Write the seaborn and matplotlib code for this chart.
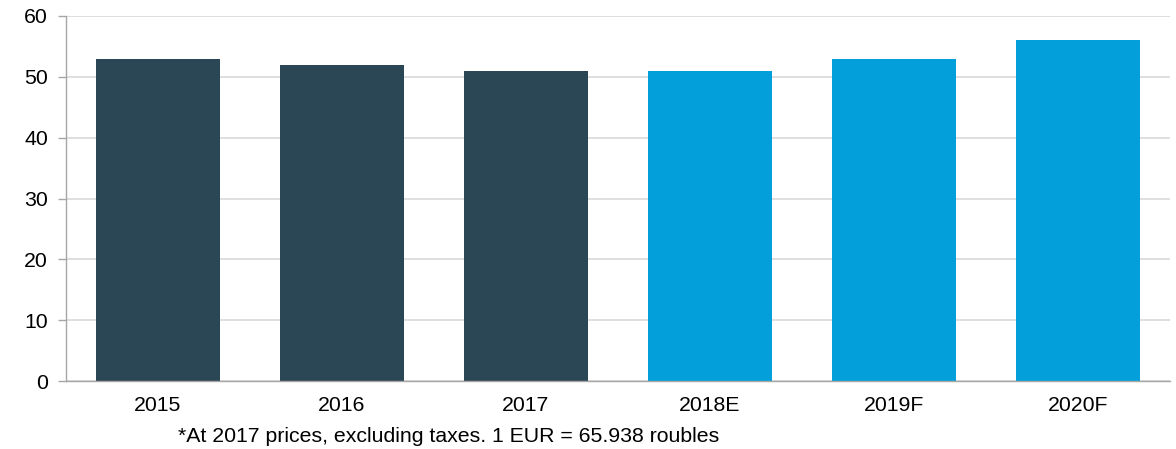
import matplotlib.pyplot as plt
import numpy as np
import pandas as pd
import seaborn as sns

# Chart data
years = ["2015", "2016", "2017", "2018E", "2019F", "2020F"]
values = [53, 52, 51, 51, 53, 56]
kind = ["actual", "actual", "actual", "forecast", "forecast", "forecast"]
colors = {"actual": "#2b4654", "forecast": "#039fdb"}
footnote = "*At 2017 prices, excluding taxes. 1 EUR = 65.938 roubles"

df = pd.DataFrame({"year": years, "value": values, "kind": kind})

sns.set_style("white")
plt.rcParams["font.family"] = ["Liberation Sans", "DejaVu Sans"]
plt.rcParams["text.color"] = "black"

fig = plt.figure(figsize=(11.76, 4.49), dpi=100)
ax = fig.add_axes([0.0561, 0.1514, 0.9389, 0.813])

sns.barplot(data=df, x="year", y="value", hue="kind", palette=colors,
            width=0.67, dodge=False, legend=False, saturation=1,
            linewidth=0, ax=ax)

ax.set_ylim(0, 60)
ax.set_yticks(np.arange(0, 61, 10))
ax.set_xlim(-0.5, len(years) - 0.5)
ax.yaxis.grid(True, color="#d9d9d9", linewidth=1.2)
ax.set_axisbelow(True)

for side in ["top", "right"]:
    ax.spines[side].set_visible(False)
for side in ["left", "bottom"]:
    ax.spines[side].set_color("#a6a6a6")
    ax.spines[side].set_linewidth(1)

# Tick marks at category boundaries on the x axis
ax.set_xticks(np.arange(-0.5, len(years), 1), minor=True)
ax.tick_params(axis="x", which="major", length=0, pad=11, labelsize=15.3,
               labelcolor="black")
ax.tick_params(axis="x", which="minor", length=5, color="#a6a6a6", width=1)
ax.tick_params(axis="y", which="major", length=6, color="#a6a6a6", width=1,
               labelsize=15.3, pad=7, left=True, labelcolor="black")
ax.set_xlabel("")
ax.set_ylabel("")

fig.text(178 / 1176, 1 - 437 / 449, footnote, fontsize=15.3, va="center",
         ha="left", color="black")

fig.savefig("out.png", dpi=100)
